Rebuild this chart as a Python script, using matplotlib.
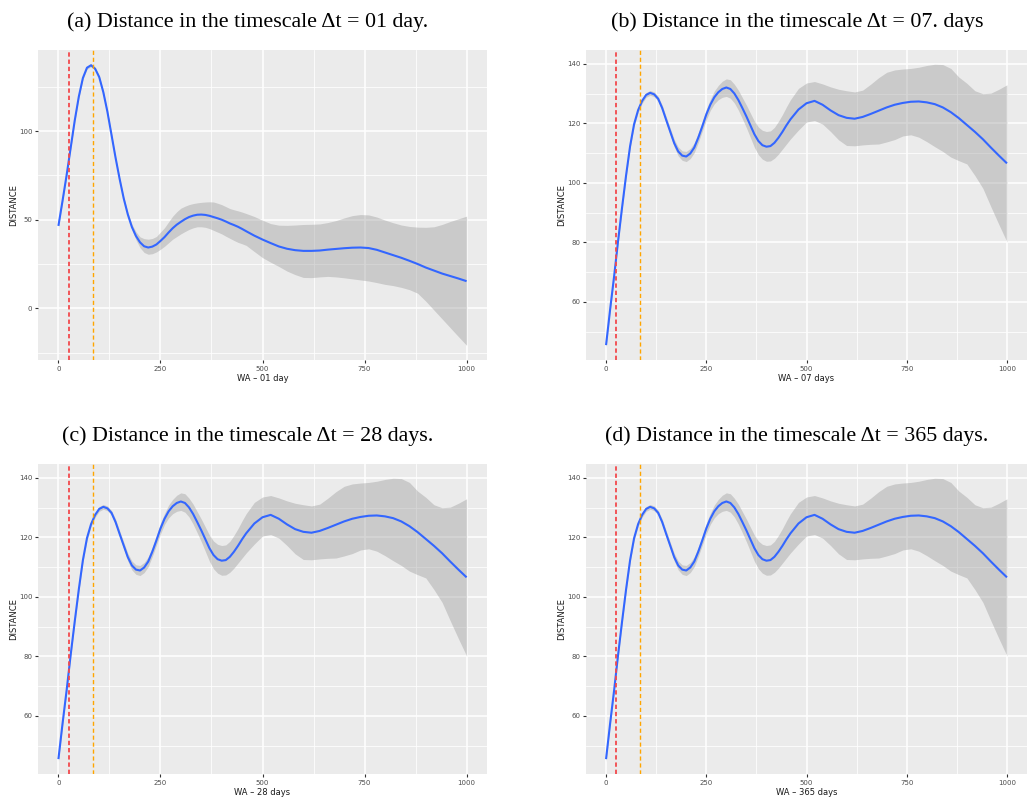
import matplotlib
matplotlib.use("Agg")
import matplotlib.pyplot as plt

# WA values (days) at which the fitted curves are evaluated
wa = [0, 10, 20, 30, 40, 50, 60, 70, 80, 90,
      100, 110, 120, 130, 140, 150, 160, 170, 180, 190,
      200, 210, 220, 230, 240, 250, 260, 270, 280, 290,
      300, 310, 320, 330, 340, 350, 360, 370, 380, 390,
      400, 410, 420, 430, 440, 450, 460,
      480, 500, 520, 540, 560, 580,
      600, 620, 640, 660, 680, 700, 720, 740, 760, 780,
      800, 820, 840, 860, 880, 900, 920, 940, 960, 980, 1000]

# Timescale 1 day: smoothed distance with its confidence band
dist_1d = [46.5, 60.5, 75.0, 90.5, 106.0, 119.5, 130.0, 135.8, 137.2, 135.2,
           130.5, 122.0, 111.0, 98.0, 85.0, 73.0, 62.0, 53.0, 45.9, 40.8,
           37.2, 35.0, 34.3, 34.8, 36.0, 38.0, 40.2, 42.8, 45.2, 47.2,
           48.8, 50.3, 51.5, 52.3, 52.8, 52.9, 52.7, 52.2, 51.5, 50.8,
           50.0, 49.0, 47.9, 47.0, 46.0, 44.8, 43.5,
           41.0, 38.8, 36.8, 34.9, 33.6, 32.8,
           32.4, 32.4, 32.6, 33.1, 33.5, 33.9, 34.2, 34.3, 34.0, 33.0,
           31.5, 30.0, 28.5, 26.8, 25.0, 23.0, 21.3, 19.6, 18.2, 16.8, 15.3]
upper_1d = [47.3, 61.3, 75.8, 91.3, 106.8, 120.3, 130.8, 136.6, 138.0, 136.0,
            131.3, 122.8, 111.8, 98.8, 85.8, 73.8, 62.9, 54.2, 47.5, 43.2,
            40.3, 39.3, 39.0, 39.4, 40.5, 43.0, 45.5, 48.8, 52.0, 54.5,
            56.5, 57.6, 58.5, 59.1, 59.5, 59.8, 60.0, 60.1, 60.0, 59.3,
            58.5, 57.4, 56.3, 55.6, 55.0, 54.3, 53.5,
            51.8, 49.7, 47.8, 46.9, 46.8, 47.0,
            47.3, 47.4, 47.6, 48.4, 49.5, 51.0, 52.3, 52.9, 52.7, 51.5,
            49.8, 48.3, 47.0, 46.2, 45.8, 45.7, 46.0, 47.3, 49.0, 50.5, 52.0]
lower_1d = [45.7, 59.7, 74.2, 89.7, 105.2, 118.7, 129.2, 135.0, 136.4, 134.4,
            129.7, 121.2, 110.2, 97.2, 84.2, 72.2, 61.1, 51.8, 44.3, 38.6,
            34.2, 31.5, 30.5, 30.8, 31.8, 33.3, 35.0, 37.0, 39.0, 40.5,
            42.0, 43.3, 44.5, 45.4, 46.0, 46.0, 45.7, 45.0, 44.0, 43.0,
            42.0, 40.7, 39.5, 38.3, 37.2, 36.4, 35.5,
            32.0, 28.6, 26.0, 23.6, 21.0, 19.0,
            17.4, 17.3, 17.7, 18.0, 17.7, 17.2, 16.6, 16.0, 15.4, 14.5,
            13.5, 12.8, 11.8, 10.5, 8.5, 4.0, -1.0, -6.0, -11.0, -16.0, -20.9]

# Timescales 7, 28 and 365 days share the same smoothed distance
dist_multi = [45.5, 57.3, 68.5, 80.5, 91.8, 102.6, 112.4, 119.8, 124.5, 127.6,
              129.6, 130.3, 129.8, 128.3, 125.2, 121.2, 117.3, 113.4, 110.6, 109.2,
              108.9, 109.9, 111.9, 115.2, 119.0, 123.0, 126.3, 128.8, 130.5, 131.6,
              132.1, 131.6, 130.1, 127.9, 125.2, 122.4, 119.4, 116.4, 114.1, 112.7,
              112.2, 112.4, 113.5, 115.2, 117.2, 119.4, 121.4,
              124.7, 126.8, 127.6, 126.3, 124.4, 122.8,
              121.9, 121.6, 122.2, 123.2, 124.3, 125.4, 126.3, 126.9, 127.3, 127.4,
              127.1, 126.5, 125.4, 123.8, 121.8, 119.5, 117.2, 114.7, 111.9, 109.2, 106.6]
upper_multi = [46.3, 58.1, 69.3, 81.3, 92.6, 103.4, 113.2, 120.6, 125.3, 128.4,
               130.4, 131.1, 130.6, 129.1, 126.2, 122.3, 118.5, 114.7, 112.1, 110.8,
               110.6, 111.6, 113.5, 116.8, 120.6, 124.8, 128.1, 130.9, 132.8, 134.2,
               135.0, 134.7, 133.2, 131.2, 128.7, 126.2, 123.5, 120.8, 118.8, 117.7,
               117.3, 117.5, 118.7, 120.7, 123.0, 125.6, 128.0,
               131.8, 133.6, 134.1, 133.3, 132.3, 131.5,
               131.0, 130.6, 131.2, 133.2, 135.4, 137.2, 138.0, 138.3, 138.5, 138.9,
               139.5, 139.9, 139.8, 138.5, 135.6, 133.5, 131.0, 130.0, 130.2, 131.5, 133.0]
lower_multi = [44.7, 56.5, 67.7, 79.7, 91.0, 101.8, 111.6, 119.0, 123.7, 126.8,
               128.8, 129.5, 129.0, 127.5, 124.2, 120.1, 116.1, 112.1, 109.1, 107.6,
               107.2, 108.2, 110.2, 113.6, 117.4, 121.2, 124.4, 126.6, 128.0, 128.8,
               129.1, 128.5, 126.9, 124.5, 121.6, 118.6, 115.3, 112.0, 109.5, 108.0,
               107.3, 107.4, 108.3, 109.7, 111.4, 113.1, 114.8,
               117.8, 120.5, 121.0, 119.8, 117.3, 114.5,
               112.6, 112.5, 112.8, 113.0, 113.1, 113.8, 114.6, 115.8, 116.2, 115.4,
               113.9, 112.2, 110.6, 108.7, 107.5, 106.4, 102.5, 98.2, 92.0, 86.0, 80.2]

# Reference WA values marked with dashed lines
wa_red = 25
wa_orange = 85

x_ticks = [0, 250, 500, 750, 1000]
x_tick_labels = ["0", "250", "500", "750", "1000"]

panels = [
    dict(title="(a) Distance in the timescale \u0394t = 01 day.", xlabel="WA \u2013 01 day",
         y=dist_1d, lo=lower_1d, hi=upper_1d, ylim=(-29.2, 145.8),
         yticks=[0, 50, 100], yminor=[-25, 25, 75, 125]),
    dict(title="(b) Distance in the timescale \u0394t = 07. days", xlabel="WA \u2013 07 days",
         y=dist_multi, lo=lower_multi, hi=upper_multi, ylim=(40.5, 144.7),
         yticks=[60, 80, 100, 120, 140], yminor=[50, 70, 90, 110, 130]),
    dict(title="(c) Distance in the timescale \u0394t = 28 days.", xlabel="WA \u2013 28 days",
         y=dist_multi, lo=lower_multi, hi=upper_multi, ylim=(40.5, 144.7),
         yticks=[60, 80, 100, 120, 140], yminor=[50, 70, 90, 110, 130]),
    dict(title="(d) Distance in the timescale \u0394t = 365 days.", xlabel="WA \u2013 365 days",
         y=dist_multi, lo=lower_multi, hi=upper_multi, ylim=(40.5, 144.7),
         yticks=[60, 80, 100, 120, 140], yminor=[50, 70, 90, 110, 130]),
]

W, H = 1028, 799
fig = plt.figure(figsize=(W / 100, H / 100), dpi=100)

# panel boxes in pixels: left, top, right, bottom
boxes = [(38, 50, 487, 360), (586, 50, 1027, 360),
         (38, 464, 487, 774), (586, 464, 1027, 774)]
title_pos = [(248, 22), (797, 22), (248, 436), (797, 436)]

for p, (l, t, r, b), (tx, ty) in zip(panels, boxes, title_pos):
    ax = fig.add_axes([l / W, 1 - b / H, (r - l) / W, (b - t) / H])
    ax.set_facecolor("#EBEBEB")
    for s in ax.spines.values():
        s.set_visible(False)
    ax.set_xlim(-50, 1050)
    ax.set_ylim(*p["ylim"])
    ax.set_xticks(x_ticks)
    ax.set_xticklabels(x_tick_labels)
    ax.set_xticks([125, 375, 625, 875], minor=True)
    ax.set_yticks(p["yticks"])
    ax.set_yticks(p["yminor"], minor=True)
    ax.grid(which="major", color="white", linewidth=1.1)
    ax.grid(which="minor", color="white", linewidth=0.55)
    ax.set_axisbelow(True)
    ax.tick_params(which="major", length=2, width=0.8, color="#333333",
                   labelsize=5, labelcolor="#4D4D4D", pad=2)
    ax.tick_params(which="minor", length=0)

    ax.fill_between(wa, p["lo"], p["hi"], color="#999999", alpha=0.4,
                    linewidth=0, zorder=2)
    ax.plot(wa, p["y"], color="#3366FF", linewidth=1.5, zorder=3,
            solid_joinstyle="round", solid_capstyle="butt")
    ax.axvline(wa_red, color="#F2494C", linewidth=1.3, linestyle=(0, (2.4, 1.6)),
               zorder=4)
    ax.axvline(wa_orange, color="#FFA500", linewidth=1.0, linestyle=(0, (3, 2)),
               zorder=4)

    ax.set_xlabel(p["xlabel"], fontsize=6, color="#1A1A1A", labelpad=2)
    ax.set_ylabel("DISTANCE", fontsize=6, color="#1A1A1A", labelpad=0.5)

    fig.text(tx / W, 1 - ty / H, p["title"], family="Liberation Serif",
             fontsize=15.8, ha="center", va="center", color="black")

fig.savefig("out.png", dpi=100, facecolor="white")
